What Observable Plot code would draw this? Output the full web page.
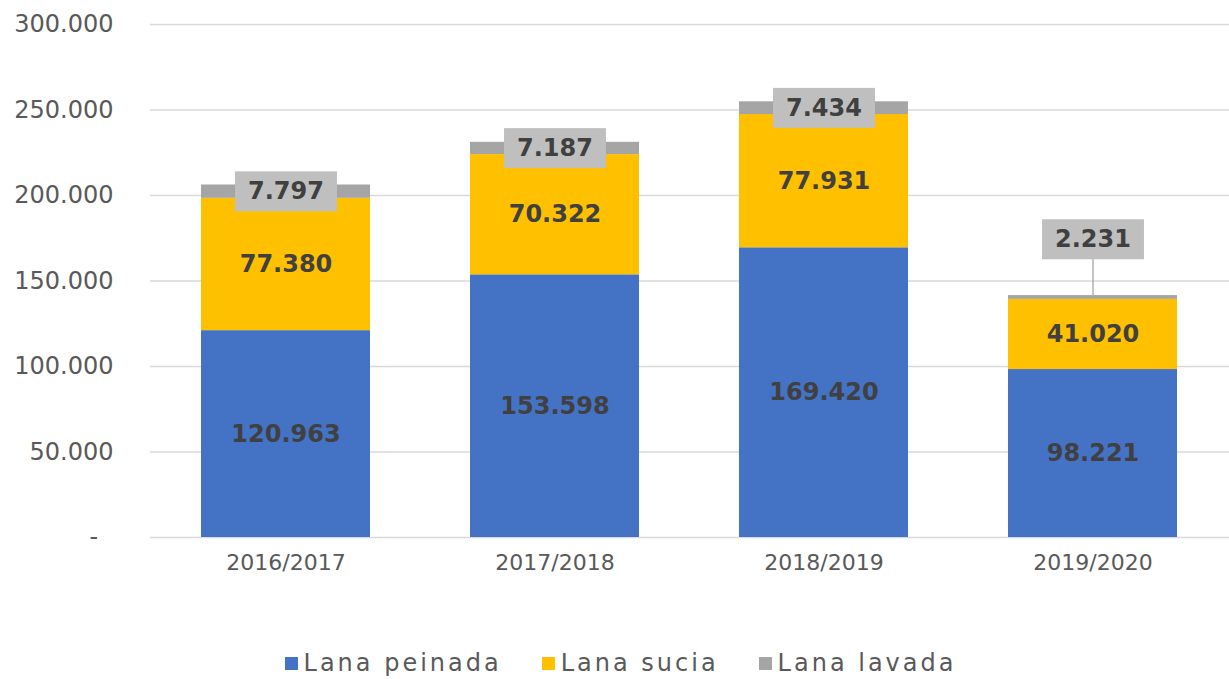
<!DOCTYPE html>
<html><head><meta charset="utf-8">
<script src="https://cdn.jsdelivr.net/npm/d3@7"></script>
<script src="https://cdn.jsdelivr.net/npm/@observablehq/plot@0.6"></script>
<style>
body{margin:0;background:#fff;font-family:"DejaVu Sans",sans-serif;}
#legend{display:flex;justify-content:center;align-items:center;margin-top:33px;height:30px;padding-left:12px;color:#595959;font-size:24px;letter-spacing:3px;}
#legend .item{display:flex;align-items:center;margin:0 20px;}
#legend .sw{width:13px;height:13px;margin-right:6px;}
</style></head><body>
<div id="chart"></div>
<div id="legend"></div>
<script>
const campaigns = ["2016/2017","2017/2018","2018/2019","2019/2020"];
const series = ["Lana peinada","Lana sucia","Lana lavada"];
const peinada = [120963,153598,169420,98221];
const sucia = [77380,70322,77931,41020];
const lavada = [7797,7187,7434,2231];
const colors = ["#4472C4","#FFC000","#A5A5A5"];
const yTicks = [0,50000,100000,150000,200000,250000,300000];

const loc = d3.formatLocale({decimal:",", thousands:".", grouping:[3], currency:["",""]});
const fmt = loc.format(",d");
const tickFmt = v => v === 0 ? "-\u00a0\u00a0" : fmt(v);

const valuesBySerie = [peinada, sucia, lavada];
const data = [];
campaigns.forEach((c, i) => series.forEach((s, j) => data.push({campaign:c, serie:s, value:valuesBySerie[j][i]})));

const grayRows = campaigns.map((c, i) => {
  const top = peinada[i] + sucia[i] + lavada[i];
  return {campaign:c, value:lavada[i], top, mid: top - lavada[i]/2, small: lavada[i] < 5000};
});

const plot = Plot.plot({
  width: 1229, height: 615,
  marginLeft: 150, marginRight: 0, marginTop: 24, marginBottom: 78,
  x: {domain: campaigns, paddingInner: 0.37, paddingOuter: 0.185},
  y: {domain: [0, 300000]},
  color: {domain: series, range: colors},
  marks: [
    Plot.ruleY(yTicks, {stroke:"#d9d9d9", strokeWidth:1.3}),
    Plot.barY(data, {x:"campaign", y:"value", fill:"serie", z:"serie"}),
    Plot.text(data, Plot.stackY({x:"campaign", y:"value", z:"serie",
      text: d => d.serie === "Lana lavada" ? "" : fmt(d.value),
      fill:"#404040", fontSize:24, fontWeight:"bold", fontFamily:"DejaVu Sans"})),
    Plot.text(grayRows.filter(d => !d.small), {x:"campaign", y:"mid", text: d => fmt(d.value),
      fill:"#404040", fontSize:24, fontWeight:"bold", fontFamily:"DejaVu Sans", className:"graylab"}),
    Plot.text(grayRows.filter(d => d.small), {x:"campaign", y:"top", dy:-56, text: d => fmt(d.value),
      fill:"#404040", fontSize:24, fontWeight:"bold", fontFamily:"DejaVu Sans", className:"graylab graysmall"}),
    Plot.axisY({ticks: yTicks, tickFormat: tickFmt, tickSize:0, tickPadding:37, fontSize:24, color:"#595959", label:null, fontFamily:"DejaVu Sans"}),
    Plot.axisX({tickSize:0, tickPadding:17, fontSize:22, color:"#595959", label:null, fontFamily:"DejaVu Sans"})
  ]
});
document.getElementById("chart").appendChild(plot);

// boxes behind gray labels, and leader line for the small segment
const yScale = plot.scale("y");
const svgBox = plot.getBoundingClientRect();
const svgSel = d3.select(plot);
const smallRows = grayRows.filter(d => d.small);
svgSel.selectAll("g.graylab").each(function(){
  const g = this;
  const isSmall = g.classList.contains("graysmall");
  const deco = document.createElementNS("http://www.w3.org/2000/svg", "g");
  g.parentNode.insertBefore(deco, g);
  d3.select(g).selectAll("text").each(function(_, i){
    const tb = this.getBoundingClientRect();
    const x = tb.left - svgBox.left, y = tb.top - svgBox.top;
    const h = 40, cy = y + tb.height/2;
    d3.select(deco).append("rect")
      .attr("x", x - 13).attr("y", cy - h/2)
      .attr("width", tb.width + 26).attr("height", h)
      .attr("fill", "#BFBFBF");
    if (isSmall) {
      const cx = x + tb.width/2;
      d3.select(deco).append("line")
        .attr("x1", cx).attr("x2", cx)
        .attr("y1", cy + h/2).attr("y2", yScale.apply(smallRows[i].top))
        .attr("stroke", "#A5A5A5").attr("stroke-width", 1.3);
    }
  });
});

const legend = d3.select("#legend");
series.forEach((s, i) => {
  const it = legend.append("div").attr("class","item");
  it.append("div").attr("class","sw").style("background", colors[i]);
  it.append("span").text(s);
});
</script>
</body></html>
